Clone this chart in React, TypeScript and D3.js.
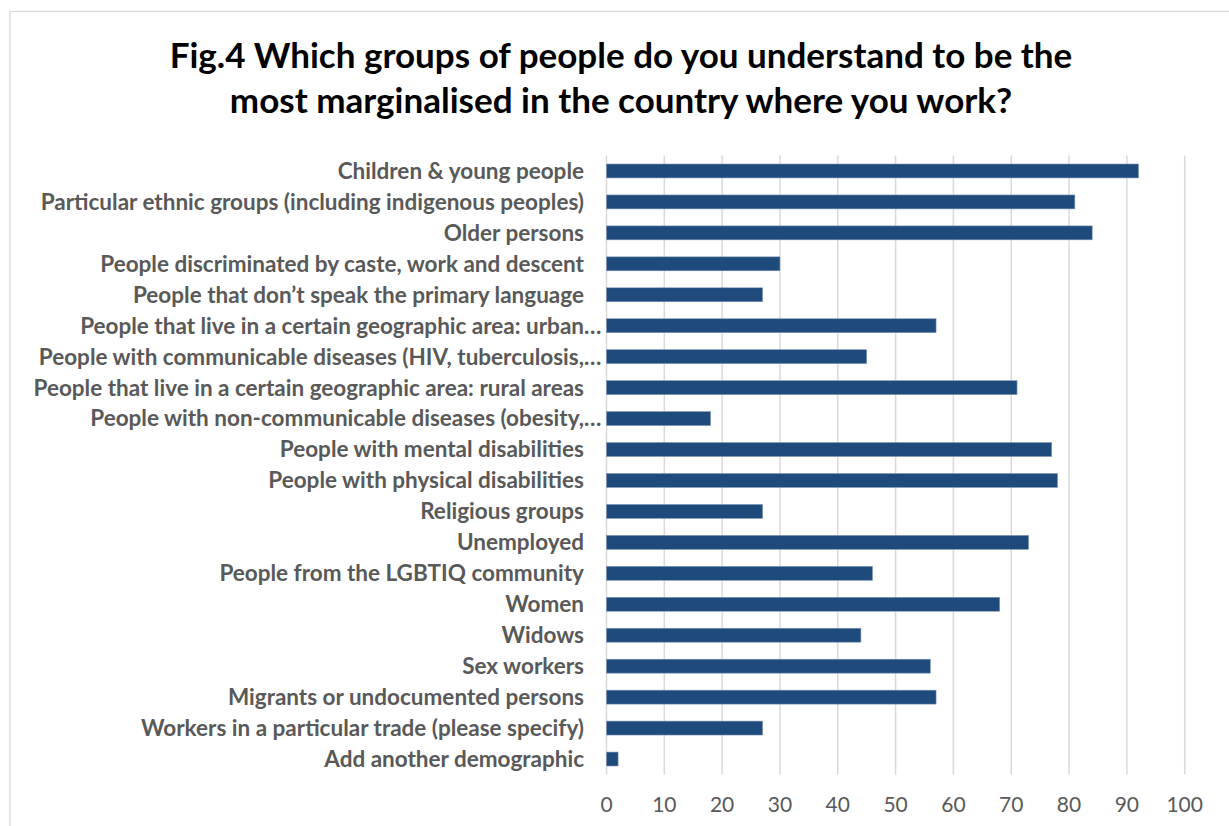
import React from "react";
import * as d3 from "d3";

const titleLines = [
  "Fig.4 Which groups of people do you understand to be the",
  "most marginalised in the country where you work?",
];

const categories = [
  "Children & young people",
  "Particular ethnic groups (including indigenous peoples)",
  "Older persons",
  "People discriminated by caste, work and descent",
  "People that don’t speak the primary language",
  "People that live in a certain geographic area: urban…",
  "People with communicable diseases (HIV, tuberculosis,…",
  "People that live in a certain geographic area: rural areas",
  "People with non-communicable diseases (obesity,…",
  "People with mental disabilities",
  "People with physical disabilities",
  "Religious groups",
  "Unemployed",
  "People from the LGBTIQ community",
  "Women",
  "Widows",
  "Sex workers",
  "Migrants or undocumented persons",
  "Workers in a particular trade (please specify)",
  "Add another demographic",
];

const values = [92, 81, 84, 30, 27, 57, 45, 71, 18, 77, 78, 27, 73, 46, 68, 44, 56, 57, 27, 2];

const xTicks = [0, 10, 20, 30, 40, 50, 60, 70, 80, 90, 100];

const W = 1229;
const H = 826;
const FONT = "Lato, 'Open Sans', sans-serif";

export default function App() {
  const x = d3.scaleLinear().domain([0, 100]).range([606.5, 1184.7]);
  const y = d3
    .scaleBand<string>()
    .domain(categories)
    .range([155.5, 774.5])
    .paddingInner(0.55)
    .paddingOuter(0.275);
  const labelX = 584;

  return (
    <svg
      width={W}
      height={H}
      style={{ position: "absolute", left: 0, top: 0, background: "#fff" }}
      fontFamily={FONT}
    >
      <rect x={0} y={0} width={W} height={H} fill="#fff" />
      <rect x={10} y={11.5} width={W + 20} height={H + 20} fill="#fff" stroke="#d9d9d9" strokeWidth={1.3} />
      {titleLines.map((t, i) => (
        <text
          key={i}
          x={621}
          y={68 + i * 45}
          textAnchor="middle"
          fontSize={35}
          fontWeight={700}
          fill="#000"
        >
          {t}
        </text>
      ))}
      {xTicks.map((t) => (
        <line
          key={"g" + t}
          x1={x(t)}
          x2={x(t)}
          y1={155.5}
          y2={774.5}
          stroke="#d9d9d9"
          strokeWidth={1.5}
        />
      ))}
      {categories.map((c, i) => (
        <rect
          key={"b" + i}
          x={x(0)}
          y={y(c)!}
          width={x(values[i]) - x(0)}
          height={y.bandwidth()}
          fill="#1f4a7c"
          stroke="#7f97b8"
          strokeWidth={0.6}
        />
      ))}
      {categories.map((c, i) => {
        const cy = y(c)! + y.bandwidth() / 2;
        const trunc = c.endsWith("…");
        const main = trunc ? c.slice(0, -1) : c;
        return (
          <g key={"l" + i} fontSize={22.5} fontWeight={700} fill="#595959">
            <text x={labelX} y={cy} dy="0.35em" textAnchor="end">
              {main}
            </text>
            {trunc && (
              <text x={labelX} y={cy} dy="0.35em" textAnchor="start">
                …
              </text>
            )}
          </g>
        );
      })}
      {xTicks.map((t) => (
        <text
          key={"t" + t}
          x={x(t)}
          y={812}
          textAnchor="middle"
          fontSize={21}
          fill="#595959"
        >
          {t}
        </text>
      ))}
    </svg>
  );
}
